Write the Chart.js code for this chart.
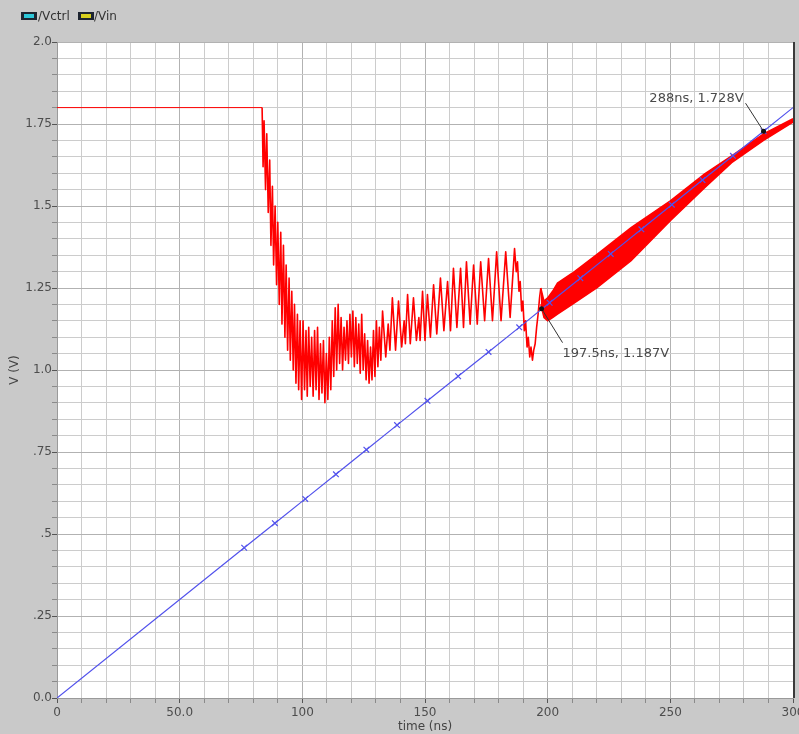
<!DOCTYPE html>
<html>
<head>
<meta charset="utf-8">
<title>Vctrl / Vin</title>
<script src="https://cdn.jsdelivr.net/npm/chart.js@4.4.1/dist/chart.umd.min.js"></script>
<style>
    html, body { margin: 0; padding: 0; background: #c9c9c9; }
    #wrap { width: 799px; height: 734px; }
</style>
</head>
<body>
<div id="wrap"><canvas id="wave-chart" width="799" height="734"></canvas></div>
<script>
// /Vctrl ramp (blue), points where the marker crosses are drawn
const vctrlTime = [0, 76.3, 88.8, 101.2, 113.7, 126.1, 138.6, 151.0, 163.5, 175.9,
    188.4, 200.8, 213.3, 225.7, 238.2, 250.6, 263.1, 275.5, 288.0, 300];
const vctrlVolt = [0, 0.458, 0.533, 0.607, 0.682, 0.757, 0.832, 0.906, 0.981, 1.055,
    1.130, 1.205, 1.280, 1.354, 1.429, 1.504, 1.579, 1.653, 1.728, 1.800];

// /Vin (red) up to where it locks onto the ramp
const vinTime = [
    0, 83.6, 84.0, 84.4, 85.0, 85.5, 86.1, 86.7, 87.2, 87.8,
    88.3, 88.9, 89.5, 90.0, 90.6, 91.2, 91.7, 92.3, 92.9, 93.4,
    94.0, 94.6, 95.1, 95.7, 96.3, 96.8, 97.4, 98.0, 98.5, 99.1,
    99.7, 100.3, 100.9, 101.5, 102.0, 102.6, 103.2, 103.8, 104.4, 105.0,
    105.6, 106.2, 106.8, 107.4, 108.0, 108.6, 109.2, 109.8, 110.4, 111.0,
    111.6, 112.2, 112.8, 113.4, 114.0, 114.6, 115.2, 115.8, 116.4, 117.0,
    117.6, 118.2, 118.8, 119.4, 120.0, 120.6, 121.2, 121.8, 122.4, 123.0,
    123.6, 124.2, 124.8, 125.4, 126.0, 126.6, 127.2, 127.8, 128.4, 129.0,
    129.6, 130.2, 130.8, 131.4, 132.0, 132.7, 134.0, 135.0, 135.7, 136.7,
    138.0, 139.2, 140.5, 141.5, 142.0, 142.9, 144.0, 145.3, 146.5, 147.5,
    148.0, 149.0, 150.0, 151.0, 152.2, 153.5, 154.8, 156.3, 157.7, 159.2,
    160.4, 161.6, 163.0, 164.5, 165.7, 166.9, 168.4, 169.8, 171.3, 172.7,
    174.3, 175.9, 177.5, 179.2, 181.0, 182.9, 184.7, 186.5, 187.2, 187.7,
    188.3, 188.8, 189.4, 189.9, 190.5, 191.0, 191.6, 192.1, 192.7, 193.2,
    193.8, 194.3, 194.9, 195.5, 196.1, 196.7, 197.2
];
const vinVolt = [
    1.80, 1.80, 1.62, 1.76, 1.55, 1.72, 1.48, 1.64, 1.38, 1.56,
    1.32, 1.50, 1.26, 1.45, 1.20, 1.42, 1.14, 1.38, 1.10, 1.32,
    1.06, 1.28, 1.03, 1.24, 1.00, 1.20, 0.96, 1.17, 0.94, 1.15,
    0.91, 1.15, 0.94, 1.12, 0.92, 1.13, 0.95, 1.10, 0.92, 1.12,
    0.94, 1.13, 0.91, 1.08, 0.93, 1.09, 0.90, 1.05, 0.91, 1.10,
    0.94, 1.15, 0.98, 1.19, 1.00, 1.20, 1.02, 1.16, 1.00, 1.13,
    1.03, 1.15, 1.02, 1.17, 1.04, 1.18, 1.01, 1.16, 1.02, 1.14,
    0.99, 1.17, 1.00, 1.11, 0.97, 1.09, 0.96, 1.07, 0.97, 1.12,
    0.98, 1.15, 1.01, 1.13, 1.03, 1.18, 1.04, 1.14, 1.06, 1.22,
    1.06, 1.21, 1.07, 1.15, 1.08, 1.23, 1.08, 1.22, 1.09, 1.16,
    1.09, 1.24, 1.09, 1.23, 1.10, 1.26, 1.11, 1.28, 1.12, 1.27,
    1.12, 1.31, 1.13, 1.31, 1.13, 1.33, 1.14, 1.32, 1.14, 1.33,
    1.15, 1.34, 1.15, 1.36, 1.15, 1.36, 1.16, 1.37, 1.30, 1.33,
    1.24, 1.27, 1.18, 1.21, 1.12, 1.15, 1.07, 1.10, 1.04, 1.07,
    1.03, 1.06, 1.08, 1.13, 1.17, 1.22, 1.25
];

// /Vin after 197ns: fast ripple, kept as its upper and lower envelope
const bandTime = [197.2, 198.5, 200.0, 202.0, 204.0, 210.0, 220.0, 234.0, 250.0, 264.0, 275.0, 288.0, 300.0];
const bandUpper = [1.25, 1.21, 1.22, 1.24, 1.265, 1.295, 1.352, 1.434, 1.516, 1.598, 1.653, 1.720, 1.766];
const bandLower = [1.20, 1.16, 1.15, 1.16, 1.17, 1.20, 1.25, 1.333, 1.455, 1.556, 1.632, 1.700, 1.756];

// axis labels
const xLabelValues = [0, 50, 100, 150, 200, 250, 300];
const xLabelText = ['0', '50.0', '100', '150', '200', '250', '300'];
const yLabelValues = [0, 0.25, 0.5, 0.75, 1.0, 1.25, 1.5, 1.75, 2.0];
const yLabelText = ['0.0', '.25', '.5', '.75', '1.0', '1.25', '1.5', '1.75', '2.0'];

// probe points
const probeTime = [197.5, 288];
const probeVolt = [1.187, 1.728];
const probeText = ['197.5ns, 1.187V', '288ns, 1.728V'];

const legendNames = ['/Vctrl', '/Vin'];

const RED = '#ff0000';
const BLUE = '#5252ec';

const pts = (xs, ys) => xs.map((x, i) => ({ x, y: ys[i] }));
const findLabel = (vals, text, v) => {
    const i = vals.findIndex(t => Math.abs(t - v) < 1e-6);
    return i >= 0 ? text[i] : '';
};
const isMajor = (vals, v) => vals.some(t => Math.abs(t - v) < 1e-6);

const scopeFrame = {
    id: 'scopeFrame',
    beforeDraw(chart) {
        const { ctx, chartArea: a } = chart;
        ctx.save();
        ctx.fillStyle = '#c9c9c9';
        ctx.fillRect(0, 0, chart.width, chart.height);
        ctx.fillStyle = '#ffffff';
        ctx.fillRect(a.left, a.top, a.right - a.left, a.bottom - a.top);
        ctx.restore();
    },
    afterDatasetsDraw(chart) {
        const { ctx, chartArea: a, scales: { x, y } } = chart;
        ctx.save();

        // dark right edge of the plot frame
        ctx.strokeStyle = '#3a3a3a';
        ctx.lineWidth = 2;
        ctx.beginPath();
        ctx.moveTo(a.right + 1, a.top);
        ctx.lineTo(a.right + 1, a.bottom);
        ctx.stroke();

        // probes: dot, leader line, text
        const leader = [{ dx: 21, dy: 34 }, { dx: -18, dy: -28 }];
        const textOff = [{ dx: 21, dy: 45, align: 'left' }, { dx: -20, dy: -33, align: 'right' }];
        ctx.font = '13px "DejaVu Sans"';
        ctx.textBaseline = 'middle';
        probeTime.forEach((t, i) => {
            const px = x.getPixelForValue(t);
            const py = y.getPixelForValue(probeVolt[i]);
            ctx.strokeStyle = '#333';
            ctx.lineWidth = 1;
            ctx.beginPath();
            ctx.moveTo(px, py);
            ctx.lineTo(px + leader[i].dx, py + leader[i].dy);
            ctx.stroke();
            ctx.fillStyle = '#111';
            ctx.beginPath();
            ctx.arc(px, py, 2.5, 0, Math.PI * 2);
            ctx.fill();
            ctx.fillStyle = '#4a4a4a';
            ctx.textAlign = textOff[i].align;
            ctx.fillText(probeText[i], px + textOff[i].dx, py + textOff[i].dy);
        });

        // legend chips in the top-left corner
        const chips = [{ x: 21, fill: '#2cc6d8', tx: 38 }, { x: 78, fill: '#d6cf1e', tx: 94 }];
        ctx.font = '12px "DejaVu Sans"';
        ctx.textAlign = 'left';
        chips.forEach((c, i) => {
            ctx.fillStyle = '#1d2430';
            ctx.fillRect(c.x, 12, 16, 8);
            ctx.fillStyle = c.fill;
            ctx.fillRect(c.x + 3, 14, 10, 4);
            ctx.fillStyle = '#333';
            ctx.fillText(legendNames[i], c.tx, 17);
        });
        ctx.restore();
    }
};

Chart.defaults.font.family = '"DejaVu Sans", Verdana, sans-serif';
Chart.defaults.font.size = 12;

new Chart(document.getElementById('wave-chart'), {
    type: 'line',
    data: {
        datasets: [
            {
                label: '/Vctrl',
                data: pts(vctrlTime, vctrlVolt),
                borderColor: BLUE,
                borderWidth: 1.2,
                pointStyle: 'crossRot',
                pointRadius: ctx => (ctx.dataIndex === 0 || ctx.dataIndex === vctrlTime.length - 1) ? 0 : 4,
                pointBorderColor: BLUE,
                pointBorderWidth: 1.2,
                tension: 0,
                order: 0
            },
            {
                label: '/Vin',
                data: pts(vinTime, vinVolt),
                borderColor: RED,
                borderWidth: 1.6,
                borderJoinStyle: 'round',
                // the settled 1.8V stretch is a plain thin trace
                segment: { borderWidth: ctx => ctx.p0DataIndex === 0 ? 1 : undefined },
                pointRadius: 0,
                tension: 0,
                order: 1
            },
            {
                label: '/Vin lower',
                data: pts(bandTime, bandLower),
                borderColor: RED,
                borderWidth: 1.5,
                pointRadius: 0,
                fill: false,
                order: 2
            },
            {
                label: '/Vin upper',
                data: pts(bandTime, bandUpper),
                borderColor: RED,
                backgroundColor: RED,
                borderWidth: 1.5,
                pointRadius: 0,
                fill: '-1',
                order: 3
            }
        ]
    },
    options: {
        responsive: false,
        animation: false,
        layout: { padding: { top: 42, right: 6, bottom: 0, left: 0 } },
        plugins: {
            legend: { display: false },
            tooltip: { enabled: false }
        },
        scales: {
            x: {
                type: 'linear',
                min: 0,
                max: 300,
                ticks: {
                    stepSize: 10,
                    autoSkip: false,
                    maxRotation: 0,
                    padding: 3,
                    color: '#4d4d4d',
                    callback: v => findLabel(xLabelValues, xLabelText, v)
                },
                grid: {
                    color: c => isMajor(xLabelValues, c.tick.value) ? '#b2b2b2' : '#cccccc',
                    tickColor: c => isMajor(xLabelValues, c.tick.value) ? '#555' : '#8a8a8a',
                    tickLength: 5
                },
                border: { color: '#9a9a9a' },
                title: { display: true, text: 'time (ns)', color: '#444', padding: 0 },
                afterFit(scale) {
                    scale.height = 36;
                    scale.paddingLeft = 0;
                    scale.paddingRight = 0;
                }
            },
            y: {
                min: 0,
                max: 2,
                ticks: {
                    stepSize: 0.05,
                    autoSkip: false,
                    padding: 0,
                    color: '#4d4d4d',
                    callback: v => findLabel(yLabelValues, yLabelText, v)
                },
                grid: {
                    color: c => isMajor(yLabelValues, c.tick.value) ? '#b2b2b2' : '#cccccc',
                    tickColor: c => isMajor(yLabelValues, c.tick.value) ? '#555' : '#8a8a8a',
                    tickLength: 5
                },
                border: { color: '#9a9a9a' },
                title: { display: true, text: 'V (V)', color: '#444', padding: { top: 8, bottom: 0 } },
                afterFit(scale) {
                    scale.width = 57;
                }
            }
        }
    },
    plugins: [scopeFrame]
});
</script>
</body>
</html>
